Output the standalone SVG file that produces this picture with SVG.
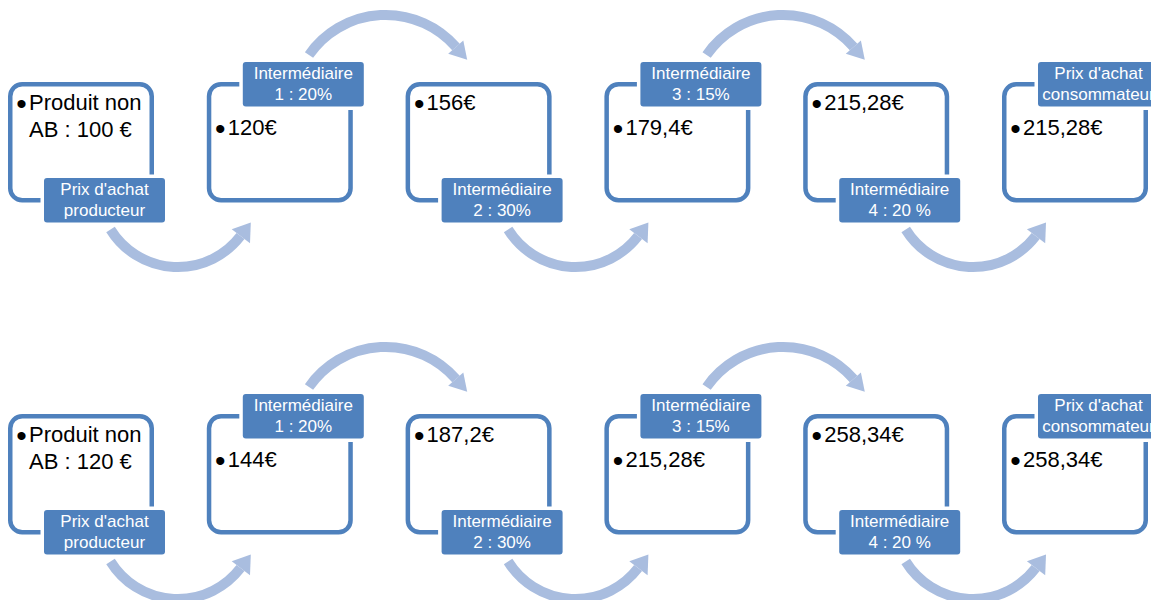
<svg xmlns="http://www.w3.org/2000/svg" xmlns:xlink="http://www.w3.org/1999/xlink" width="1151" height="600" viewBox="0 0 1151 600">
<style>
.box{fill:#ffffff;stroke:#4f81bd;stroke-width:4.5}
.lbl{fill:#4f81bd;stroke:#ffffff;stroke-width:7;paint-order:stroke}
.lt{font-family:"Liberation Sans",Arial,sans-serif;font-size:17px;fill:#ffffff;text-anchor:middle}
.bt{font-family:"Liberation Sans",Arial,sans-serif;font-size:22px;fill:#000000}
.bu{font-family:"Liberation Sans",Arial,sans-serif;font-size:30px;fill:#000000}
.arc{fill:none;stroke:#a9bddf;stroke-width:10}
.head{fill:#a9bddf}
</style>
<defs>
<g id="arrowBottom">
<path class="arc" d="M110.5 229.5 A79 79 0 0 0 240.5 236"/>
<polygon class="head" points="231.7,229.3 250.8,222.5 250,243.3"/>
</g>
<g id="arrowTop">
<path class="arc" d="M309 55 A93.3 93.3 0 0 1 456 47"/>
<polygon class="head" points="448.2,53.8 463.3,40.6 467.2,59.8"/>
</g>
</defs>
<g id="connectors">
<use xlink:href="#arrowBottom" href="#arrowBottom"/>
<use xlink:href="#arrowBottom" href="#arrowBottom" transform="translate(397.6,0)"/>
<use xlink:href="#arrowBottom" href="#arrowBottom" transform="translate(795.2,0)"/>
<use xlink:href="#arrowTop" href="#arrowTop"/>
<use xlink:href="#arrowTop" href="#arrowTop" transform="translate(397.6,0)"/>
<use xlink:href="#arrowBottom" href="#arrowBottom" transform="translate(0,332)"/>
<use xlink:href="#arrowBottom" href="#arrowBottom" transform="translate(397.6,332)"/>
<use xlink:href="#arrowBottom" href="#arrowBottom" transform="translate(795.2,332)"/>
<use xlink:href="#arrowTop" href="#arrowTop" transform="translate(0,332)"/>
<use xlink:href="#arrowTop" href="#arrowTop" transform="translate(397.6,332)"/>
</g>
<g id="row1">
<g id="r1n1">
<rect class="box" x="10.25" y="84.25" width="141.5" height="116" rx="12"/>
<text class="bu" x="16.3" y="114">•</text>
<text class="bt" x="29" y="110">Produit non</text>
<text class="bt" x="29" y="137">AB : 100 €</text>
<rect class="lbl" x="44" y="178" width="121" height="44.5" rx="3"/>
<text class="lt" x="104.5" y="195">Prix d'achat</text>
<text class="lt" x="104.5" y="216">producteur</text>
</g>
<g id="r1n2">
<rect class="box" x="209.05" y="84.25" width="141.5" height="116" rx="12"/>
<text class="bu" x="215.1" y="139">•</text>
<text class="bt" x="227.8" y="135">120€</text>
<rect class="lbl" x="242.8" y="62" width="121" height="44.5" rx="3"/>
<text class="lt" x="303.3" y="79">Intermédiaire</text>
<text class="lt" x="303.3" y="100">1 : 20%</text>
</g>
<g id="r1n3">
<rect class="box" x="407.85" y="84.25" width="141.5" height="116" rx="12"/>
<text class="bu" x="413.9" y="114">•</text>
<text class="bt" x="426.6" y="110">156€</text>
<rect class="lbl" x="441.6" y="178" width="121" height="44.5" rx="3"/>
<text class="lt" x="502.1" y="195">Intermédiaire</text>
<text class="lt" x="502.1" y="216">2 : 30%</text>
</g>
<g id="r1n4">
<rect class="box" x="606.65" y="84.25" width="141.5" height="116" rx="12"/>
<text class="bu" x="612.7" y="139">•</text>
<text class="bt" x="625.4" y="135">179,4€</text>
<rect class="lbl" x="640.4" y="62" width="121" height="44.5" rx="3"/>
<text class="lt" x="700.9" y="79">Intermédiaire</text>
<text class="lt" x="700.9" y="100">3 : 15%</text>
</g>
<g id="r1n5">
<rect class="box" x="805.45" y="84.25" width="141.5" height="116" rx="12"/>
<text class="bu" x="811.5" y="114">•</text>
<text class="bt" x="824.2" y="110">215,28€</text>
<rect class="lbl" x="839.2" y="178" width="121" height="44.5" rx="3"/>
<text class="lt" x="899.7" y="195">Intermédiaire</text>
<text class="lt" x="899.7" y="216">4 : 20 %</text>
</g>
<g id="r1n6">
<rect class="box" x="1004.25" y="84.25" width="141.5" height="116" rx="12"/>
<text class="bu" x="1010.3" y="139">•</text>
<text class="bt" x="1023" y="135">215,28€</text>
<rect class="lbl" x="1038" y="62" width="121" height="44.5" rx="3"/>
<text class="lt" x="1098.5" y="79">Prix d'achat</text>
<text class="lt" x="1098.5" y="100">consommateur</text>
</g>
</g>
<g id="row2" transform="translate(0,332)">
<g id="r2n1">
<rect class="box" x="10.25" y="84.25" width="141.5" height="116" rx="12"/>
<text class="bu" x="16.3" y="114">•</text>
<text class="bt" x="29" y="110">Produit non</text>
<text class="bt" x="29" y="137">AB : 120 €</text>
<rect class="lbl" x="44" y="178" width="121" height="44.5" rx="3"/>
<text class="lt" x="104.5" y="195">Prix d'achat</text>
<text class="lt" x="104.5" y="216">producteur</text>
</g>
<g id="r2n2">
<rect class="box" x="209.05" y="84.25" width="141.5" height="116" rx="12"/>
<text class="bu" x="215.1" y="139">•</text>
<text class="bt" x="227.8" y="135">144€</text>
<rect class="lbl" x="242.8" y="62" width="121" height="44.5" rx="3"/>
<text class="lt" x="303.3" y="79">Intermédiaire</text>
<text class="lt" x="303.3" y="100">1 : 20%</text>
</g>
<g id="r2n3">
<rect class="box" x="407.85" y="84.25" width="141.5" height="116" rx="12"/>
<text class="bu" x="413.9" y="114">•</text>
<text class="bt" x="426.6" y="110">187,2€</text>
<rect class="lbl" x="441.6" y="178" width="121" height="44.5" rx="3"/>
<text class="lt" x="502.1" y="195">Intermédiaire</text>
<text class="lt" x="502.1" y="216">2 : 30%</text>
</g>
<g id="r2n4">
<rect class="box" x="606.65" y="84.25" width="141.5" height="116" rx="12"/>
<text class="bu" x="612.7" y="139">•</text>
<text class="bt" x="625.4" y="135">215,28€</text>
<rect class="lbl" x="640.4" y="62" width="121" height="44.5" rx="3"/>
<text class="lt" x="700.9" y="79">Intermédiaire</text>
<text class="lt" x="700.9" y="100">3 : 15%</text>
</g>
<g id="r2n5">
<rect class="box" x="805.45" y="84.25" width="141.5" height="116" rx="12"/>
<text class="bu" x="811.5" y="114">•</text>
<text class="bt" x="824.2" y="110">258,34€</text>
<rect class="lbl" x="839.2" y="178" width="121" height="44.5" rx="3"/>
<text class="lt" x="899.7" y="195">Intermédiaire</text>
<text class="lt" x="899.7" y="216">4 : 20 %</text>
</g>
<g id="r2n6">
<rect class="box" x="1004.25" y="84.25" width="141.5" height="116" rx="12"/>
<text class="bu" x="1010.3" y="139">•</text>
<text class="bt" x="1023" y="135">258,34€</text>
<rect class="lbl" x="1038" y="62" width="121" height="44.5" rx="3"/>
<text class="lt" x="1098.5" y="79">Prix d'achat</text>
<text class="lt" x="1098.5" y="100">consommateur</text>
</g>
</g>
</svg>
